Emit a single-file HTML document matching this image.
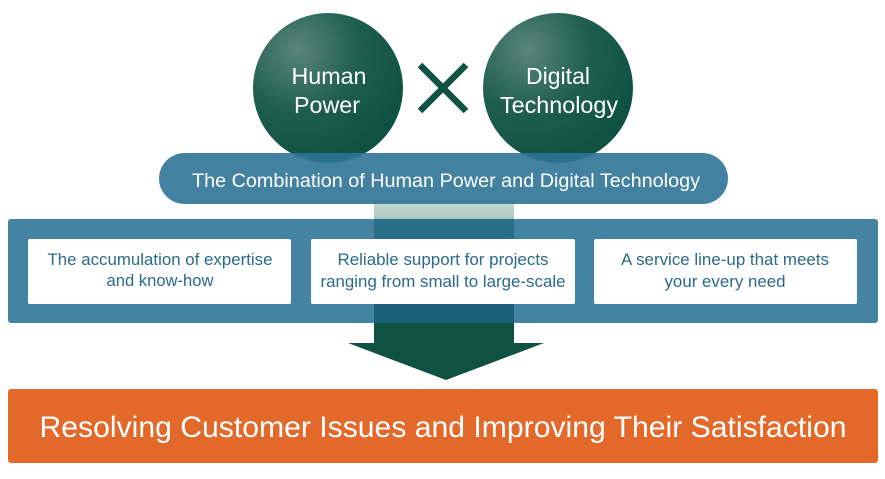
<!DOCTYPE html>
<html><head><meta charset="utf-8"><style>
html,body{margin:0;padding:0;background:#fff;}
svg{display:block;font-family:"Liberation Sans",Arial,sans-serif;}
</style></head><body>
<svg width="885" height="479" viewBox="0 0 885 479" xmlns="http://www.w3.org/2000/svg">
<defs>
<radialGradient id="g1" cx="0.3" cy="0.25" r="0.75">
<stop offset="0" stop-color="#5a857a"/><stop offset="0.55" stop-color="#1f5e4f"/><stop offset="1" stop-color="#0f5244"/>
</radialGradient>
<linearGradient id="stem" x1="0" y1="0" x2="0" y2="1">
<stop offset="0" stop-color="#c6dad4"/><stop offset="1" stop-color="#a9c6bd"/>
</linearGradient>
<linearGradient id="stem2" x1="0" y1="0" x2="0" y2="1">
<stop offset="0" stop-color="#2a7088"/><stop offset="1" stop-color="#1a5f78"/>
</linearGradient>
</defs>
<circle cx="328" cy="88" r="75" fill="url(#g1)"/>
<circle cx="558" cy="88" r="75" fill="url(#g1)"/>
<g font-size="23" fill="#fff" text-anchor="middle">
<text x="329" y="84" textLength="75" lengthAdjust="spacingAndGlyphs">Human</text>
<text x="327" y="113" textLength="66" lengthAdjust="spacingAndGlyphs">Power</text>
<text x="558" y="84" textLength="64" lengthAdjust="spacingAndGlyphs">Digital</text>
<text x="559" y="113" textLength="118" lengthAdjust="spacingAndGlyphs">Technology</text>
</g>
<path d="M420 65 L466 111 M466 65 L420 111" stroke="#0f5244" stroke-width="6.5"/>
<rect x="374" y="200" width="140" height="22" fill="url(#stem)"/>
<rect x="159" y="153" width="569" height="51" rx="25.5" fill="#2f7397" fill-opacity="0.9"/>
<text x="446" y="187" font-size="19" fill="#fff" text-anchor="middle" textLength="508" lengthAdjust="spacingAndGlyphs">The Combination of Human Power and Digital Technology</text>
<rect x="8" y="219" width="870" height="104" rx="3" fill="#4583a2"/>
<rect x="374" y="219" width="140" height="124" fill="url(#stem2)"/>
<rect x="28" y="239" width="263" height="65" rx="2" fill="#fff"/>
<rect x="311" y="239" width="264" height="65" rx="2" fill="#fff"/>
<rect x="594" y="239" width="263" height="65" rx="2" fill="#fff"/>
<g font-size="16.5" fill="#2a6a8a" text-anchor="middle" lengthAdjust="spacingAndGlyphs">
<text x="160" y="265" textLength="225" lengthAdjust="spacingAndGlyphs">The accumulation of expertise</text>
<text x="160" y="286" textLength="107" lengthAdjust="spacingAndGlyphs">and know-how</text>
<text x="443" y="265" textLength="211" lengthAdjust="spacingAndGlyphs">Reliable support for projects</text>
<text x="443" y="287" textLength="245" lengthAdjust="spacingAndGlyphs">ranging from small to large-scale</text>
<text x="725" y="265" textLength="208" lengthAdjust="spacingAndGlyphs">A service line-up that meets</text>
<text x="725" y="287" textLength="121" lengthAdjust="spacingAndGlyphs">your every need</text>
</g>
<rect x="374" y="304" width="140" height="40" fill="#0f5244"/>
<rect x="374" y="304" width="140" height="19" fill="#1b6078"/>
<polygon points="348,343 544,343 446,380" fill="#0f5244"/>
<rect x="8" y="389" width="870" height="74" rx="3" fill="#e3692b"/>
<text x="443" y="437" font-size="30" fill="#fff" text-anchor="middle" textLength="807" lengthAdjust="spacingAndGlyphs">Resolving Customer Issues and Improving Their Satisfaction</text>
</svg>
</body></html>
